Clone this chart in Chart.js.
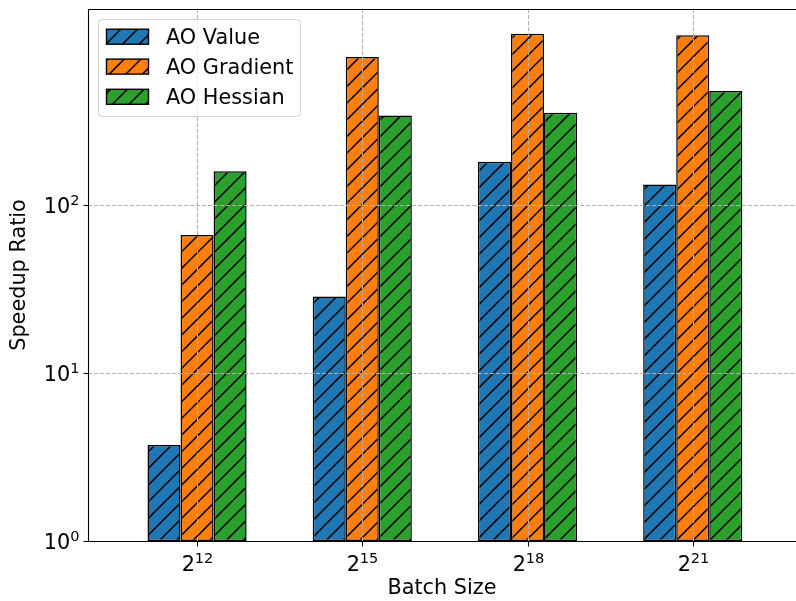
<!DOCTYPE html>
<html>
<head>
<meta charset="utf-8">
<script src="https://cdn.jsdelivr.net/npm/chart.js@4.4.1/dist/chart.umd.min.js"></script>
<style>
html, body { margin:0; padding:0; background:#fff; overflow:hidden; }
#wrap { width:796px; height:601px; }
</style>
</head>
<body>
<div id="wrap"><canvas id="myChart" width="796" height="601"></canvas></div>
<script>
// data
var batchExp = ['12', '15', '18', '21'];
var aoValue = [3.73, 28.5, 180, 132];
var aoGradient = [66, 757, 1042, 1018];
var aoHessian = [158, 339, 352, 475];
var seriesNames = ['AO Value', 'AO Gradient', 'AO Hessian'];
var seriesColors = ['#1f77b4', '#ff7f0e', '#2ca02c'];
var yTicks = [1, 10, 100];
var yTickExp = ['0', '1', '2'];

var FONT = '"DejaVu Sans", sans-serif';
var FS = 20.8;

var canvas = document.getElementById('myChart');
var ctx = canvas.getContext('2d');

// matplotlib style '/' hatch
function hatch(color) {
  var c = document.createElement('canvas');
  c.width = 50; c.height = 50;
  var g = c.getContext('2d');
  g.fillStyle = color;
  g.fillRect(0, 0, 50, 50);
  g.strokeStyle = '#000';
  g.lineWidth = 1.5;
  for (var k = -2; k <= 8; k++) {
    var s = k * 50 / 3;
    g.beginPath();
    g.moveTo(s, 0);
    g.lineTo(s - 50, 50);
    g.stroke();
  }
  return ctx.createPattern(c, 'repeat');
}
var patterns = seriesColors.map(hatch);

function pts(arr) {
  return arr.map(function (v, i) { return {x: i, y: v}; });
}

function supLabel(c, base, exp, x, baseline, align) {
  c.font = FS + 'px ' + FONT;
  var wb = c.measureText(base).width;
  c.font = (FS * 0.7) + 'px ' + FONT;
  var we = c.measureText(exp).width;
  var x0 = align === 'right' ? x - wb - we : x - (wb + we) / 2;
  c.textAlign = 'left';
  c.textBaseline = 'alphabetic';
  c.fillStyle = '#000';
  c.font = FS + 'px ' + FONT;
  c.fillText(base, x0, baseline);
  c.font = (FS * 0.7) + 'px ' + FONT;
  c.fillText(exp, x0 + wb, baseline - 8);
}

var decor = {
  id: 'decor',
  afterDatasetsDraw: function (chart) {
    var c = chart.ctx;
    var a = chart.chartArea;
    var xs = chart.scales.x, ys = chart.scales.y;
    c.save();
    // grid on top of bars, like matplotlib
    c.setLineDash([4, 2]);
    c.strokeStyle = '#b0b0b0';
    c.lineWidth = 1;
    batchExp.forEach(function (e, i) {
      var px = Math.round(xs.getPixelForValue(i)) + 0.5;
      c.beginPath(); c.moveTo(px, a.top); c.lineTo(px, a.bottom); c.stroke();
    });
    yTicks.forEach(function (v) {
      var py = Math.round(ys.getPixelForValue(v)) + 0.5;
      c.beginPath(); c.moveTo(a.left, py); c.lineTo(a.right, py); c.stroke();
    });
    c.setLineDash([]);
    // spines (the right one is cut off in the original picture)
    c.strokeStyle = '#000';
    c.lineWidth = 1.1;
    var L = Math.round(a.left) + 0.5, B = Math.round(a.bottom) + 0.5, T = Math.round(a.top) + 0.5;
    c.beginPath();
    c.moveTo(a.right, T); c.lineTo(L, T); c.lineTo(L, B); c.lineTo(a.right, B);
    c.stroke();
    // ticks + labels
    batchExp.forEach(function (e, i) {
      var px = Math.round(xs.getPixelForValue(i)) + 0.5;
      c.beginPath(); c.moveTo(px, B); c.lineTo(px, B + 5); c.stroke();
      supLabel(c, '2', e, px, B + 29, 'center');
    });
    yTicks.forEach(function (v, i) {
      var py = Math.round(ys.getPixelForValue(v)) + 0.5;
      c.beginPath(); c.moveTo(L - 5, py); c.lineTo(L, py); c.stroke();
      supLabel(c, '10', yTickExp[i], L - 9, py + 7.6, 'right');
    });
    // legend
    var lx = 98.5, ly = 19.5, lw = 202, lh = 97, r = 4;
    c.beginPath();
    c.moveTo(lx + r, ly);
    c.arcTo(lx + lw, ly, lx + lw, ly + lh, r);
    c.arcTo(lx + lw, ly + lh, lx, ly + lh, r);
    c.arcTo(lx, ly + lh, lx, ly, r);
    c.arcTo(lx, ly, lx + lw, ly, r);
    c.closePath();
    c.fillStyle = 'rgba(255,255,255,0.8)';
    c.fill();
    c.strokeStyle = '#d0d0d0';
    c.lineWidth = 1;
    c.stroke();
    var rows = [36.7, 66.6, 96.8];
    chart.data.datasets.forEach(function (ds, i) {
      var cy = rows[i];
      c.fillStyle = ds.backgroundColor;
      c.fillRect(106, cy - 7.5, 43, 15);
      c.strokeStyle = '#000';
      c.lineWidth = 1.4;
      c.strokeRect(106.5, cy - 7.5, 42, 15);
      c.fillStyle = '#000';
      c.font = FS + 'px ' + FONT;
      c.textAlign = 'left';
      c.textBaseline = 'alphabetic';
      c.fillText(ds.label, 166, cy + 7.6);
    });
    c.restore();
  }
};

var datasets = [aoValue, aoGradient, aoHessian].map(function (arr, i) {
  return {
    label: seriesNames[i],
    data: pts(arr),
    backgroundColor: patterns[i],
    borderColor: '#000',
    borderWidth: 1.5,
    borderSkipped: false,
    categoryPercentage: 0.6,
    barPercentage: 1.0
  };
});

var chart = new Chart(ctx, {
  type: 'bar',
  data: { datasets: datasets },
  options: {
    responsive: false,
    animation: false,
    layout: { padding: { top: 9, right: 0, left: 0, bottom: 0 } },
    plugins: { legend: { display: false }, tooltip: { enabled: false } },
    scales: {
      x: {
        type: 'linear', min: -0.66, max: 3.625, offset: false,
        grid: { display: false, offset: false }, border: { display: false },
        ticks: { display: false },
        afterBuildTicks: function (s) {
          s.ticks = batchExp.map(function (e, i) { return {value: i}; });
        },
        title: { display: true, text: 'Batch Size', color: '#000',
          font: { family: FONT, size: FS }, padding: { top: 0, bottom: 0 } },
        afterFit: function (s) { s.height = 60; }
      },
      y: {
        type: 'logarithmic', min: 1, max: 1460,
        grid: { display: false }, border: { display: false },
        ticks: { display: false },
        afterBuildTicks: function (s) {
          s.ticks = yTicks.map(function (v) { return {value: v}; });
        },
        title: { display: true, text: 'Speedup Ratio', color: '#000',
          font: { family: FONT, size: FS }, padding: { top: 7, bottom: 0 } },
        afterFit: function (s) { s.width = 88; }
      }
    }
  },
  plugins: [decor]
});
</script>
</body>
</html>
